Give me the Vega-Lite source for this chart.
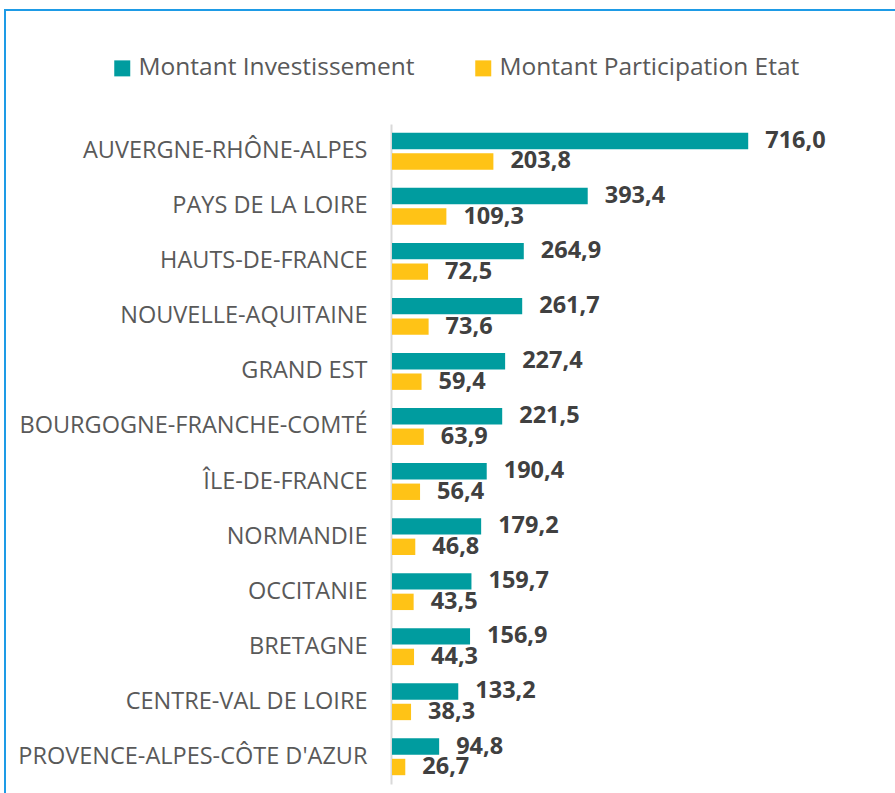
{
  "$schema": "https://vega.github.io/schema/vega-lite/v6.json",
  "width": 900,
  "height": 800,
  "autosize": {"type": "none"},
  "padding": {"left": 5, "top": 10, "right": 0, "bottom": 0},
  "background": "white",
  "config": {
    "view": {"stroke": "#1e9be6", "strokeWidth": 2},
    "locale": {"number": {"decimal": ",", "thousands": " ", "grouping": [3], "currency": ["", " €"]}},
    "font": "Open Sans"
  },
  "data": {
    "values": [
      {"region": "AUVERGNE-RHÔNE-ALPES", "serie": "Montant Investissement", "montant": 716.0},
      {"region": "AUVERGNE-RHÔNE-ALPES", "serie": "Montant Participation Etat", "montant": 203.8},
      {"region": "PAYS DE LA LOIRE", "serie": "Montant Investissement", "montant": 393.4},
      {"region": "PAYS DE LA LOIRE", "serie": "Montant Participation Etat", "montant": 109.3},
      {"region": "HAUTS-DE-FRANCE", "serie": "Montant Investissement", "montant": 264.9},
      {"region": "HAUTS-DE-FRANCE", "serie": "Montant Participation Etat", "montant": 72.5},
      {"region": "NOUVELLE-AQUITAINE", "serie": "Montant Investissement", "montant": 261.7},
      {"region": "NOUVELLE-AQUITAINE", "serie": "Montant Participation Etat", "montant": 73.6},
      {"region": "GRAND EST", "serie": "Montant Investissement", "montant": 227.4},
      {"region": "GRAND EST", "serie": "Montant Participation Etat", "montant": 59.4},
      {"region": "BOURGOGNE-FRANCHE-COMTÉ", "serie": "Montant Investissement", "montant": 221.5},
      {"region": "BOURGOGNE-FRANCHE-COMTÉ", "serie": "Montant Participation Etat", "montant": 63.9},
      {"region": "ÎLE-DE-FRANCE", "serie": "Montant Investissement", "montant": 190.4},
      {"region": "ÎLE-DE-FRANCE", "serie": "Montant Participation Etat", "montant": 56.4},
      {"region": "NORMANDIE", "serie": "Montant Investissement", "montant": 179.2},
      {"region": "NORMANDIE", "serie": "Montant Participation Etat", "montant": 46.8},
      {"region": "OCCITANIE", "serie": "Montant Investissement", "montant": 159.7},
      {"region": "OCCITANIE", "serie": "Montant Participation Etat", "montant": 43.5},
      {"region": "BRETAGNE", "serie": "Montant Investissement", "montant": 156.9},
      {"region": "BRETAGNE", "serie": "Montant Participation Etat", "montant": 44.3},
      {"region": "CENTRE-VAL DE LOIRE", "serie": "Montant Investissement", "montant": 133.2},
      {"region": "CENTRE-VAL DE LOIRE", "serie": "Montant Participation Etat", "montant": 38.3},
      {"region": "PROVENCE-ALPES-CÔTE D'AZUR", "serie": "Montant Investissement", "montant": 94.8},
      {"region": "PROVENCE-ALPES-CÔTE D'AZUR", "serie": "Montant Participation Etat", "montant": 26.7}
    ]
  },
  "encoding": {
    "y": {
      "field": "region", "type": "nominal", "sort": null,
      "scale": {"range": [114, 774], "paddingInner": 0.33, "paddingOuter": 0.16},
      "axis": {"title": null, "ticks": false, "offset": -386, "labelPadding": 24, "labelFontSize": 23.5, "labelColor": "#595959", "labelFont": "Open Sans", "domainColor": "#d9d9d9", "domainWidth": 2, "labelLimit": 500}
    },
    "yOffset": {"field": "serie", "type": "nominal", "scale": {"paddingInner": 0.2}},
    "x": {"field": "montant", "type": "quantitative", "scale": {"domain": [0, 800], "range": [387, 785]}, "axis": null}
  },
  "layer": [
    {
      "mark": {"type": "bar"},
      "encoding": {
        "color": {
          "field": "serie", "type": "nominal",
          "scale": {"domain": ["Montant Investissement", "Montant Participation Etat"], "range": ["#009c9f", "#ffc316"]},
          "legend": {
            "title": null, "orient": "none", "direction": "horizontal", "legendX": 105, "legendY": 46,
            "symbolType": "square", "symbolSize": 256, "symbolStrokeWidth": 0, "labelFontSize": 24.5, "labelColor": "#595959", "labelFont": "Open Sans", "labelLimit": 500, "columnPadding": 56, "labelOffset": 4
          }
        }
      }
    },
    {
      "mark": {"type": "text", "align": "left", "baseline": "middle", "dx": 17, "fontSize": 23.5, "fontWeight": "bold", "color": "#404040", "font": "Open Sans"},
      "encoding": {"text": {"field": "montant", "type": "quantitative", "format": ".1f"}}
    }
  ]
}
